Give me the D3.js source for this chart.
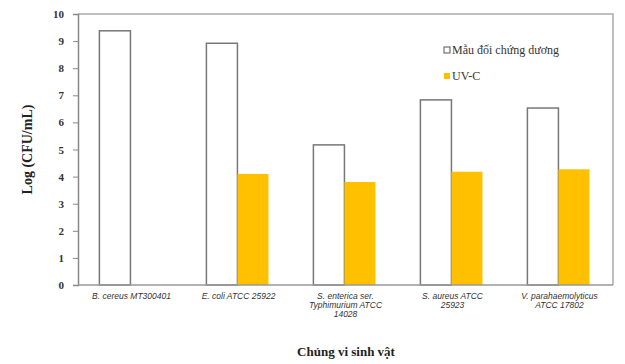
<!DOCTYPE html>
<html>
<head>
<meta charset="utf-8">
<script src="https://cdn.jsdelivr.net/npm/d3@7"></script>
<style>
  body { margin: 0; background: #fff; }
  svg { display: block; }
  .ytick text { font-family: "Liberation Serif", "Times New Roman", serif; font-weight: bold; font-size: 11px; fill: #333; }
  .cat { font-family: "Liberation Sans", Arial, sans-serif; font-style: italic; font-size: 8.5px; fill: #333; }
  .title { font-family: "Liberation Serif", "Times New Roman", serif; font-weight: bold; fill: #222; }
  .legend { font-family: "Liberation Serif", "Times New Roman", serif; font-size: 12px; fill: #333; }
</style>
</head>
<body>
<div id="chart"></div>
<script>
// strains, one row of label lines each
var categories = [
    ["B. cereus MT300401"],
    ["E. coli ATCC 25922"],
    ["S. enterica ser.", "Typhimurium ATCC", "14028"],
    ["S. aureus ATCC", "25923"],
    ["V. parahaemolyticus", "ATCC 17802"]
];
var seriesNames = ["Mẫu đối chứng dương", "UV-C"];
var controlValues = [9.38, 8.92, 5.17, 6.83, 6.53];
var uvcValues = [null, 4.1, 3.8, 4.18, 4.27];
var yTicks = [0, 1, 2, 3, 4, 5, 6, 7, 8, 9, 10];

var width = 625, height = 364;
var margin = {top: 14, right: 12, bottom: 79, left: 78};
var plotW = width - margin.left - margin.right;
var plotH = height - margin.top - margin.bottom;

var svg = d3.select("#chart").append("svg")
    .attr("width", width)
    .attr("height", height);

var g = svg.append("g")
    .attr("transform", "translate(" + margin.left + "," + margin.top + ")");

var x0 = d3.scaleBand()
    .domain(d3.range(categories.length))
    .range([0, plotW])
    .padding(0);

var x1 = d3.scaleBand()
    .domain(seriesNames)
    .range([x0.bandwidth() * 0.2, x0.bandwidth() * 0.78])
    .padding(0);

var y = d3.scaleLinear()
    .domain([0, 10])
    .range([plotH, 0]);

// plot frame, top and right
g.append("path")
    .attr("d", "M0,0H" + plotW + "V" + plotH)
    .attr("fill", "none")
    .attr("stroke", "#aaa")
    .attr("stroke-width", 1.5);

var colors = {"Mẫu đối chứng dương": "#ffffff", "UV-C": "#ffc000"};

var rows = categories.map(function(c, i) {
    return [
        {series: seriesNames[0], value: controlValues[i]},
        {series: seriesNames[1], value: uvcValues[i]}
    ];
});

var groups = g.selectAll(".grp")
    .data(rows)
    .enter().append("g")
    .attr("class", "grp")
    .attr("transform", function(d, i) { return "translate(" + x0(i) + ",0)"; });

groups.selectAll("rect")
    .data(function(d) { return d.filter(function(e) { return e.value != null; }); })
    .enter().append("rect")
    .attr("x", function(d) { return x1(d.series); })
    .attr("y", function(d) { return y(d.value); })
    .attr("width", x1.bandwidth())
    .attr("height", function(d) { return plotH - y(d.value); })
    .attr("fill", function(d) { return colors[d.series]; })
    .attr("stroke", function(d) { return d.series === "UV-C" ? "none" : "#777"; })
    .attr("stroke-width", 1.5);

// y axis
var yAxis = g.append("g")
    .attr("class", "ytick")
    .call(d3.axisLeft(y).tickValues(yTicks).tickSize(5).tickPadding(9));
yAxis.select(".domain").attr("stroke", "#888").attr("stroke-width", 1.5);
yAxis.selectAll(".tick line").attr("stroke", "#888");

// x axis line
g.append("line")
    .attr("x1", 0).attr("x2", plotW)
    .attr("y1", plotH).attr("y2", plotH)
    .attr("stroke", "#999")
    .attr("stroke-width", 1.5);

// category labels
var catText = g.selectAll(".cat")
    .data(categories)
    .enter().append("text")
    .attr("class", "cat")
    .attr("text-anchor", "middle")
    .attr("transform", function(d, i) {
        return "translate(" + (x0(i) + x0.bandwidth() / 2) + "," + (plotH + 14) + ")";
    });
catText.selectAll("tspan")
    .data(function(d) { return d; })
    .enter().append("tspan")
    .attr("x", 0)
    .attr("dy", function(d, i) { return i === 0 ? 0 : 9; })
    .text(function(d) { return d; });

// axis titles
svg.append("text")
    .attr("class", "title")
    .attr("font-size", 14)
    .attr("text-anchor", "middle")
    .attr("transform", "translate(32," + (margin.top + plotH / 2) + ") rotate(-90)")
    .text("Log (CFU/mL)");

svg.append("text")
    .attr("class", "title")
    .attr("font-size", 13)
    .attr("text-anchor", "middle")
    .attr("x", 346)
    .attr("y", 356)
    .text("Chủng vi sinh vật");

// legend
var legend = svg.append("g")
    .attr("transform", "translate(444,47)");
var li = legend.selectAll("g")
    .data(seriesNames)
    .enter().append("g")
    .attr("transform", function(d, i) { return "translate(0," + i * 26 + ")"; });
li.append("rect")
    .attr("x", 0).attr("y", 0)
    .attr("width", 6).attr("height", 6)
    .attr("fill", function(d) { return colors[d]; })
    .attr("stroke", function(d) { return d === "UV-C" ? "none" : "#555"; })
    .attr("stroke-width", 1);
li.append("text")
    .attr("class", "legend")
    .attr("x", 8)
    .attr("y", 7)
    .text(function(d) { return d; });
</script>
</body>
</html>
